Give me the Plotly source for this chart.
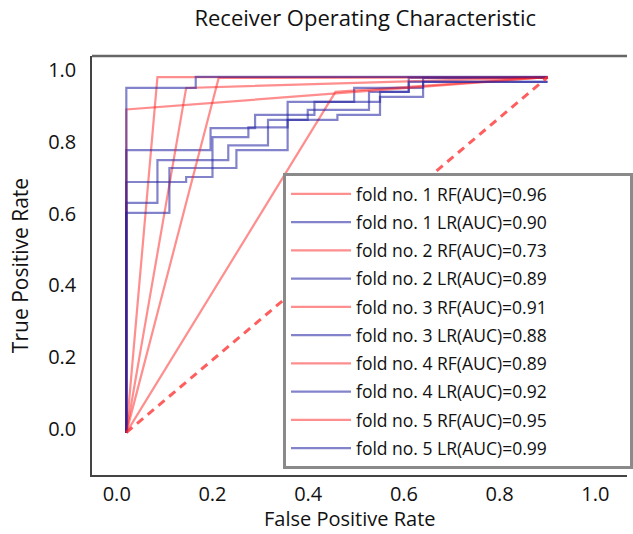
import plotly.graph_objects as go

# ---------------- data ----------------
rf_labels = ["fold no. 1 RF(AUC)=0.96", "fold no. 2 RF(AUC)=0.73", "fold no. 3 RF(AUC)=0.91",
             "fold no. 4 RF(AUC)=0.89", "fold no. 5 RF(AUC)=0.95"]
lr_labels = ["fold no. 1 LR(AUC)=0.90", "fold no. 2 LR(AUC)=0.89", "fold no. 3 LR(AUC)=0.88",
             "fold no. 4 LR(AUC)=0.92", "fold no. 5 LR(AUC)=0.99"]

rf1_fpr = [0.02, 0.085, 0.90]
rf1_tpr = [-0.01, 0.98, 0.98]
rf2_fpr = [0.02, 0.457, 0.90]
rf2_tpr = [-0.01, 0.939, 0.98]
rf3_fpr = [0.02, 0.145, 0.90]
rf3_tpr = [-0.01, 0.95, 0.98]
rf4_fpr = [0.02, 0.02, 0.90]
rf4_tpr = [-0.01, 0.89, 0.98]
rf5_fpr = [0.02, 0.213, 0.90]
rf5_tpr = [-0.01, 0.978, 0.98]

lr1_fpr = [0.02, 0.02, 0.196, 0.196, 0.289, 0.289, 0.413, 0.413, 0.55, 0.55, 0.61, 0.61, 0.90]
lr1_tpr = [-0.01, 0.777, 0.777, 0.838, 0.838, 0.875, 0.875, 0.911, 0.911, 0.939, 0.939, 0.978, 0.978]
lr2_fpr = [0.02, 0.02, 0.145, 0.145, 0.20, 0.20, 0.275, 0.275, 0.357, 0.357, 0.496, 0.496, 0.64, 0.64, 0.90]
lr2_tpr = [-0.01, 0.688, 0.688, 0.702, 0.702, 0.813, 0.813, 0.84, 0.84, 0.911, 0.911, 0.95, 0.95, 0.978, 0.978]
lr3_fpr = [0.02, 0.02, 0.085, 0.085, 0.233, 0.233, 0.316, 0.316, 0.399, 0.399, 0.527, 0.527, 0.61, 0.61, 0.90]
lr3_tpr = [-0.01, 0.63, 0.63, 0.749, 0.749, 0.79, 0.79, 0.861, 0.861, 0.889, 0.889, 0.939, 0.939, 0.967, 0.967]
lr4_fpr = [0.02, 0.02, 0.11, 0.11, 0.25, 0.25, 0.357, 0.357, 0.461, 0.461, 0.55, 0.55, 0.64, 0.64, 0.90]
lr4_tpr = [-0.01, 0.602, 0.602, 0.727, 0.727, 0.777, 0.777, 0.861, 0.861, 0.875, 0.875, 0.925, 0.925, 0.967, 0.967]
lr5_fpr = [0.02, 0.02, 0.165, 0.165, 0.90]
lr5_tpr = [-0.01, 0.95, 0.95, 0.981, 0.981]

chance_fpr = [0.02, 0.90]
chance_tpr = [-0.01, 0.98]

x_ticks = [0.0, 0.2, 0.4, 0.6, 0.8, 1.0]
y_ticks = [0.0, 0.2, 0.4, 0.6, 0.8, 1.0]

x_title = "False Positive Rate"
y_title = "True Positive Rate"
chart_title = "Receiver Operating Characteristic"

rf_series = [(rf1_fpr, rf1_tpr), (rf2_fpr, rf2_tpr), (rf3_fpr, rf3_tpr), (rf4_fpr, rf4_tpr), (rf5_fpr, rf5_tpr)]
lr_series = [(lr1_fpr, lr1_tpr), (lr2_fpr, lr2_tpr), (lr3_fpr, lr3_tpr), (lr4_fpr, lr4_tpr), (lr5_fpr, lr5_tpr)]

RED = "rgba(255,30,30,0.5)"
BLUE = "rgba(30,30,160,0.55)"
FONT = "Open Sans"
PAD = "\u00a0" * 17

fig = go.Figure()
for i in range(5):
    fx, fy = rf_series[i]
    fig.add_trace(go.Scatter(x=fx, y=fy, mode="lines", name=rf_labels[i] + PAD,
                             legendgroup=f"rf{i}", line=dict(color=RED, width=2.2)))
    lx, ly = lr_series[i]
    fig.add_trace(go.Scatter(x=lx, y=ly, mode="lines", name=lr_labels[i] + PAD,
                             legendgroup=f"lr{i}", line=dict(color=BLUE, width=2.2)))

fig.add_trace(go.Scatter(x=chance_fpr, y=chance_tpr, mode="lines", showlegend=False,
                         line=dict(color="rgba(255,40,40,0.75)", width=3, dash="8px,6px")))

fig.update_layout(
    width=633, height=534,
    margin=dict(l=92, r=0, t=56, b=59),
    paper_bgcolor="white", plot_bgcolor="white",
    font=dict(family=FONT, color="#111", size=18),
    title=dict(text=chart_title, x=0.577, xanchor="center",
               y=0.966, yanchor="middle", font=dict(size=22, family=FONT)),
    showlegend=True,
    legend=dict(x=0.357, y=0.721, xanchor="left", yanchor="top",
                bgcolor="white", bordercolor="#8a8a8a", borderwidth=3,
                font=dict(size=17.5, family=FONT, color="#111"),
                tracegroupgap=2.5, traceorder="grouped", itemwidth=60),
    shapes=[dict(type="line", xref="paper", yref="paper", x0=0, x1=1, y0=1, y1=1,
                 line=dict(color="#666", width=2.5))],
    annotations=[dict(text=x_title, xref="paper", yref="paper", x=0.483, y=-0.105,
                      xanchor="center", yanchor="middle", showarrow=False, borderpad=0,
                      font=dict(size=20, family=FONT, color="#111"))],
)
fig.update_xaxes(range=[-0.0517, 1.066], tickvals=x_ticks, ticktext=[f"{v:.1f}" for v in x_ticks],
                 showgrid=False, zeroline=False, showline=True, linecolor="#444", linewidth=1.5,
                 mirror=False, ticks="", ticklabelstandoff=0, tickfont=dict(size=20),
                 automargin=False)
fig.update_yaxes(range=[-0.128, 1.039], tickvals=y_ticks, ticktext=[f"{v:.1f}" for v in y_ticks],
                 showgrid=False, zeroline=False, showline=True, linecolor="#444", linewidth=1.5,
                 ticks="", ticklabelstandoff=10, tickfont=dict(size=20),
                 automargin=False,
                 title=dict(text=y_title, font=dict(size=21), standoff=14))

fig.write_html("out.html", config={"displayModeBar": False},
               post_script="document.body.style.margin='0';document.body.style.overflow='hidden';")
